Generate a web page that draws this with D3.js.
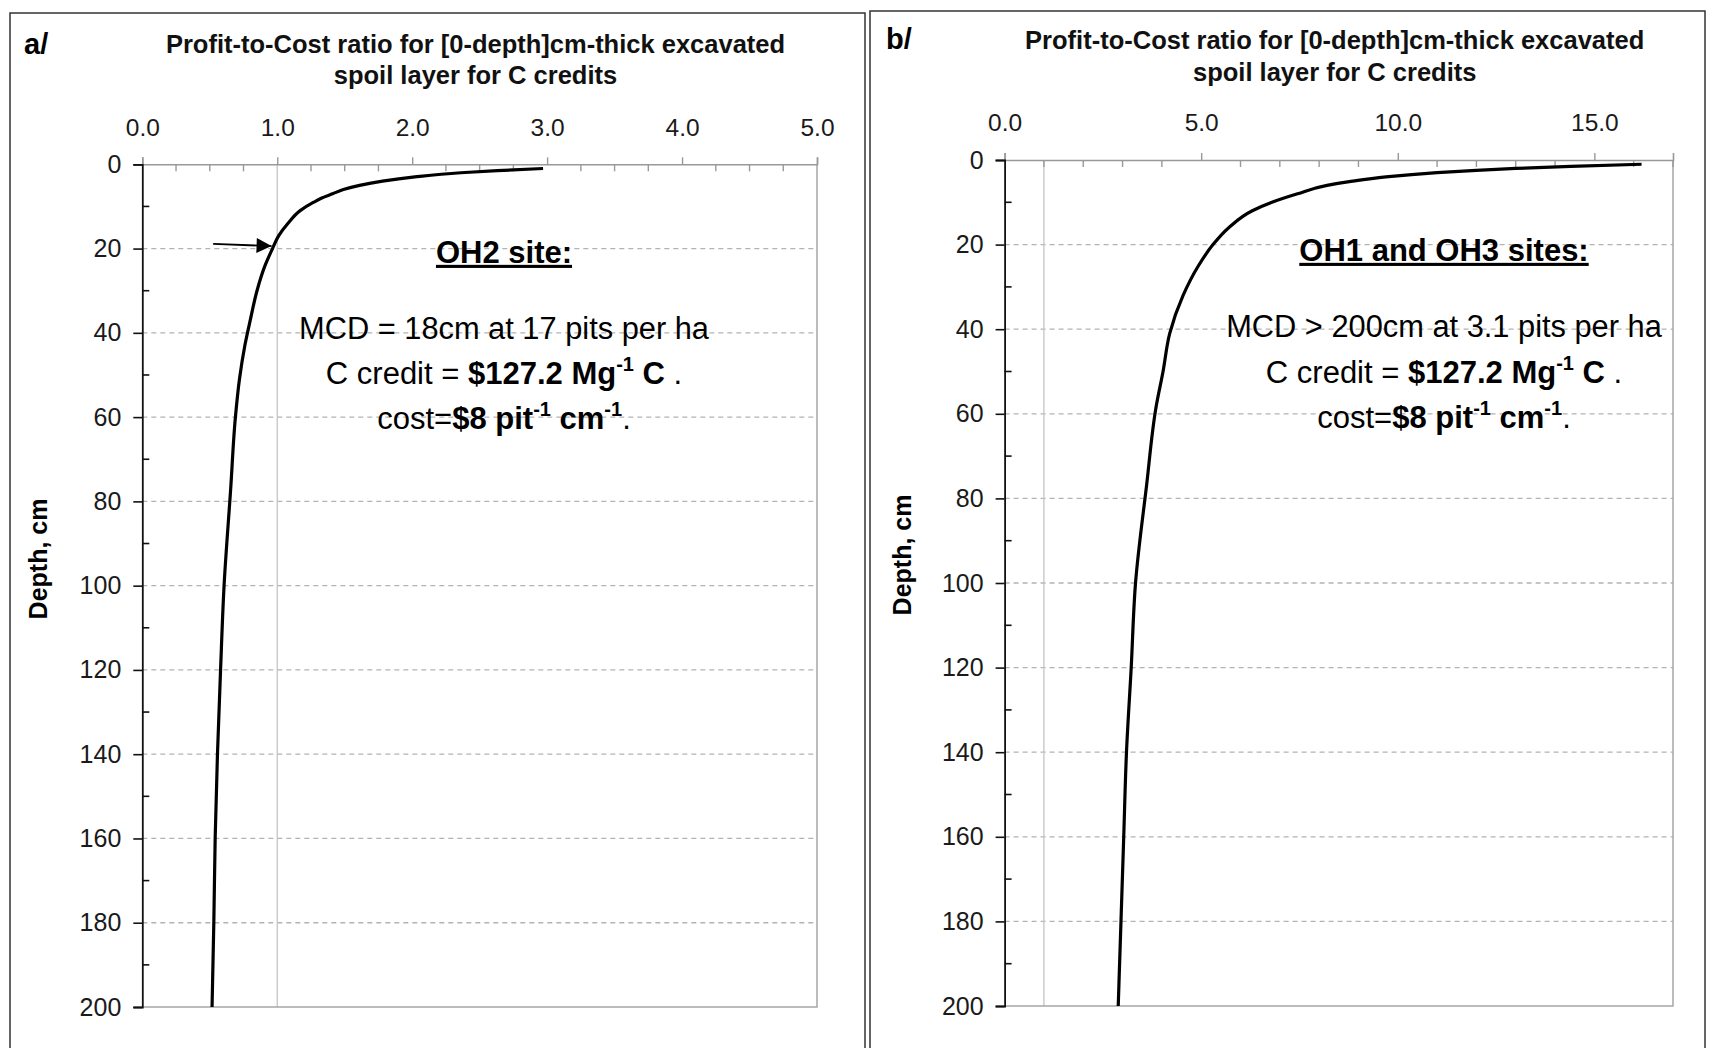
<!DOCTYPE html>
<html>
<head>
<meta charset="utf-8">
<script src="https://cdn.jsdelivr.net/npm/d3@7"></script>
<style>
  html, body { margin: 0; padding: 0; background: #fff; }
  svg { display: block; font-family: "Liberation Sans", Arial, sans-serif; }
</style>
</head>
<body>
<svg id="chart" width="1712" height="1048"></svg>
<script>
// Profit-to-cost ratio of the excavated spoil layer versus pit depth

// Panel a – OH2 site
const depthA = [1, 1.5, 2, 3, 4, 5, 6, 7, 8, 9, 11, 14, 17, 20, 24, 30, 37, 43, 51, 60, 77, 100, 120, 140, 160, 180, 200];
const ratioA = [2.97, 2.63, 2.36, 2.02, 1.78, 1.61, 1.49, 1.41, 1.33, 1.27, 1.17, 1.08, 1.01, 0.965, 0.91, 0.85, 0.80, 0.76, 0.72, 0.69, 0.655, 0.606, 0.58, 0.557, 0.54, 0.53, 0.517];

// Panel b – OH1 and OH3 sites
const depthB = [1, 1.5, 2, 3, 4, 5, 6, 8, 10, 12, 16, 20, 25, 32, 41, 50, 58, 77, 100, 120, 140, 160, 180, 200];
const ratioB = [16.2, 14.4, 13.0, 11.0, 9.7, 8.85, 8.2, 7.45, 6.8, 6.3, 5.7, 5.3, 4.93, 4.54, 4.20, 4.03, 3.86, 3.61, 3.33, 3.22, 3.10, 3.03, 2.96, 2.89];

// Axis ticks
const xMajorA = [0, 1, 2, 3, 4, 5];
const xMajorB = [0, 5, 10, 15];
const depthTicks = [0, 20, 40, 60, 80, 100, 120, 140, 160, 180, 200];

// Text
const titleLines = ["Profit-to-Cost ratio for [0-depth]cm-thick excavated", "spoil layer for C credits"];
const yAxisLabel = "Depth, cm";
const siteA = "OH2 site:";
const siteB = "OH1 and OH3 sites:";
const mcdA = "MCD = 18cm at 17 pits per ha";
const mcdB = "MCD > 200cm at 3.1 pits per ha";
const mcdDepthA = 18;   // marked by the arrow in panel a

const svg = d3.select("#chart");

svg.append("defs").append("marker")
  .attr("id", "arrowHead")
  .attr("viewBox", "0 0 10 10")
  .attr("refX", 10).attr("refY", 5)
  .attr("markerWidth", 16).attr("markerHeight", 15)
  .attr("markerUnits", "userSpaceOnUse")
  .attr("orient", "auto")
  .append("path").attr("d", "M0,0 L10,5 L0,10 Z").attr("fill", "#000");

function drawPanel(cfg) {
  const g = svg.append("g");

  // outer frame
  g.append("rect")
    .attr("x", cfg.frame[0]).attr("y", cfg.frame[1])
    .attr("width", cfg.frame[2]).attr("height", cfg.frame[3])
    .attr("fill", "none").attr("stroke", "#333").attr("stroke-width", 1.5);

  const x = d3.scaleLinear().domain([0, cfg.xMax]).range([cfg.plot[0], cfg.plot[1]]);
  const y = d3.scaleLinear().domain([0, 200]).range([cfg.plot[2], cfg.plot[3]]);

  // dashed horizontal gridlines
  g.append("g").selectAll("line")
    .data(depthTicks.filter(d => d > 0 && d < 200))
    .join("line")
    .attr("x1", x(0)).attr("x2", x(cfg.xMax))
    .attr("y1", d => y(d)).attr("y2", d => y(d))
    .attr("stroke", "#b3b3b3").attr("stroke-width", 1.3)
    .attr("stroke-dasharray", "5,4");

  // break-even line at ratio 1
  g.append("line")
    .attr("x1", x(1)).attr("x2", x(1))
    .attr("y1", y(0)).attr("y2", y(200))
    .attr("stroke", "#c4c4c4").attr("stroke-width", 1.3);

  // right and bottom borders of the plot area
  g.append("path")
    .attr("d", `M${x(cfg.xMax)},${y(0)} V${y(200)} H${x(0)}`)
    .attr("fill", "none").attr("stroke", "#a6a6a6").attr("stroke-width", 1.5);

  // top axis: major ticks outward, minor ticks inward
  const xAxisMajor = d3.axisTop(x).tickValues(cfg.xMajor).tickSize(7)
    .tickFormat(d3.format(".1f")).tickPadding(14);
  const gx = g.append("g").attr("transform", `translate(0,${y(0)})`).call(xAxisMajor);
  gx.select(".domain").attr("stroke", "#999").attr("stroke-width", 1.6);
  gx.selectAll(".tick line").attr("stroke", "#999").attr("stroke-width", 1.4);
  gx.selectAll(".tick text")
    .attr("font-family", "Liberation Sans, Arial, sans-serif")
    .attr("font-size", 24.5).attr("fill", "#1a1a1a")
    .attr("y", cfg.xLabelY - y(0)).attr("dy", "0.35em");

  const minorX = d3.range(0, cfg.xMax + 1e-9, cfg.xMinor).filter(v => !cfg.xMajor.some(m => Math.abs(m - v) < 1e-9));
  g.append("g").selectAll("line").data(minorX).join("line")
    .attr("x1", d => x(d)).attr("x2", d => x(d))
    .attr("y1", y(0)).attr("y2", y(0) + 7)
    .attr("stroke", "#999").attr("stroke-width", 1.4);

  // left axis: major ticks outward, minor ticks inward
  const yAxis = d3.axisLeft(y).tickValues(depthTicks).tickSize(9).tickPadding(12).tickFormat(d3.format("d"));
  const gy = g.append("g").attr("transform", `translate(${x(0)},0)`).call(yAxis);
  gy.select(".domain").attr("stroke", "#111").attr("stroke-width", 1.8);
  gy.selectAll(".tick line").attr("stroke", "#111").attr("stroke-width", 1.6);
  gy.selectAll(".tick text")
    .attr("font-family", "Liberation Sans, Arial, sans-serif")
    .attr("font-size", 25).attr("fill", "#1a1a1a");

  const minorY = d3.range(10, 200, 20);
  g.append("g").selectAll("line").data(minorY).join("line")
    .attr("x1", x(0)).attr("x2", x(0) + 7)
    .attr("y1", d => y(d)).attr("y2", d => y(d))
    .attr("stroke", "#111").attr("stroke-width", 1.6);

  // ratio curve
  const pts = cfg.depth.map((d, i) => [cfg.ratio[i], d]);
  g.append("path")
    .datum(pts)
    .attr("d", d3.line().x(p => x(p[0])).y(p => y(p[1])).curve(d3.curveMonotoneY))
    .attr("fill", "none").attr("stroke", "#000").attr("stroke-width", 3.2)
    .attr("stroke-linejoin", "round");

  // panel tag
  g.append("text")
    .attr("x", cfg.tag[1]).attr("y", cfg.tag[2]).attr("dy", "0.35em")
    .attr("font-size", 29).attr("font-weight", "bold").text(cfg.tag[0]);

  // title
  const t = g.append("text").attr("text-anchor", "middle")
    .attr("font-size", 25.5).attr("font-weight", "bold").attr("fill", "#111");
  titleLines.forEach((line, i) => {
    t.append("tspan").attr("x", cfg.titleX).attr("y", cfg.titleY[i]).attr("dy", "0.35em").text(line);
  });

  // vertical axis title
  g.append("text")
    .attr("transform", `translate(${cfg.yLabel[0]},${cfg.yLabel[1]}) rotate(-90)`)
    .attr("text-anchor", "middle").attr("dy", "0.35em")
    .attr("font-size", 25).attr("font-weight", "bold").text(yAxisLabel);

  // site note
  const cx = cfg.noteX;
  g.append("text").attr("x", cx).attr("y", cfg.noteY[0]).attr("dy", "0.35em")
    .attr("text-anchor", "middle").attr("font-size", 31).attr("font-weight", "bold")
    .attr("text-decoration", "underline").text(cfg.site);

  g.append("text").attr("x", cx).attr("y", cfg.noteY[1]).attr("dy", "0.35em")
    .attr("text-anchor", "middle").attr("font-size", 30.8).text(cfg.mcd);

  const parts2 = [
    { t: "C credit = ", b: false },
    { t: "$127.2 Mg", b: true },
    { t: "-1", b: true, sup: true },
    { t: " C", b: true },
    { t: " .", b: false }
  ];
  const parts3 = [
    { t: "cost=", b: false },
    { t: "$8 pit", b: true },
    { t: "-1", b: true, sup: true },
    { t: " cm", b: true },
    { t: "-1", b: true, sup: true },
    { t: ".", b: false }
  ];
  [[parts2, cfg.noteY[2]], [parts3, cfg.noteY[3]]].forEach(([parts, yy]) => {
    const txt = g.append("text").attr("x", cx).attr("y", yy).attr("dy", "0.35em")
      .attr("text-anchor", "middle").attr("font-size", 31);
    let raised = false;
    parts.forEach(p => {
      const s = txt.append("tspan").text(p.t).attr("font-weight", p.b ? "bold" : "normal");
      if (p.sup) { s.attr("font-size", 20).attr("dy", "-0.65em"); raised = true; }
      else if (raised) { s.attr("dy", "0.42em"); raised = false; }
    });
  });

  if (cfg.arrow) {
    g.append("line")
      .attr("x1", x(cfg.arrow.from[0])).attr("y1", y(cfg.arrow.from[1]))
      .attr("x2", x(cfg.arrow.to[0])).attr("y2", y(cfg.arrow.to[1]))
      .attr("stroke", "#000").attr("stroke-width", 1.8)
      .attr("marker-end", "url(#arrowHead)");
  }
}

drawPanel({
  frame: [10, 13, 855, 1060],
  plot: [142.3, 817, 164.3, 1007],
  xMax: 5, xMajor: xMajorA, xMinor: 0.25, xLabelY: 127.5,
  depth: depthA, ratio: ratioA,
  tag: ["a/", 24, 44],
  titleX: 475.5, titleY: [43.7, 75.3],
  yLabel: [38.3, 559],
  noteX: 504, noteY: [252, 328.6, 373.4, 418.2],
  site: siteA, mcd: mcdA,
  arrow: { from: [0.525, mcdDepthA + 0.9], to: [0.958, mcdDepthA + 1.4] }
});

drawPanel({
  frame: [870, 11, 835, 1060],
  plot: [1004.6, 1673, 160, 1006],
  xMax: 17, xMajor: xMajorB, xMinor: 1, xLabelY: 122.3,
  depth: depthB, ratio: ratioB,
  tag: ["b/", 886, 38.5],
  titleX: 1334.7, titleY: [40.4, 72],
  yLabel: [902, 555],
  noteX: 1444, noteY: [250, 326.5, 372.3, 417],
  site: siteB, mcd: mcdB,
  arrow: null
});
</script>
</body>
</html>
